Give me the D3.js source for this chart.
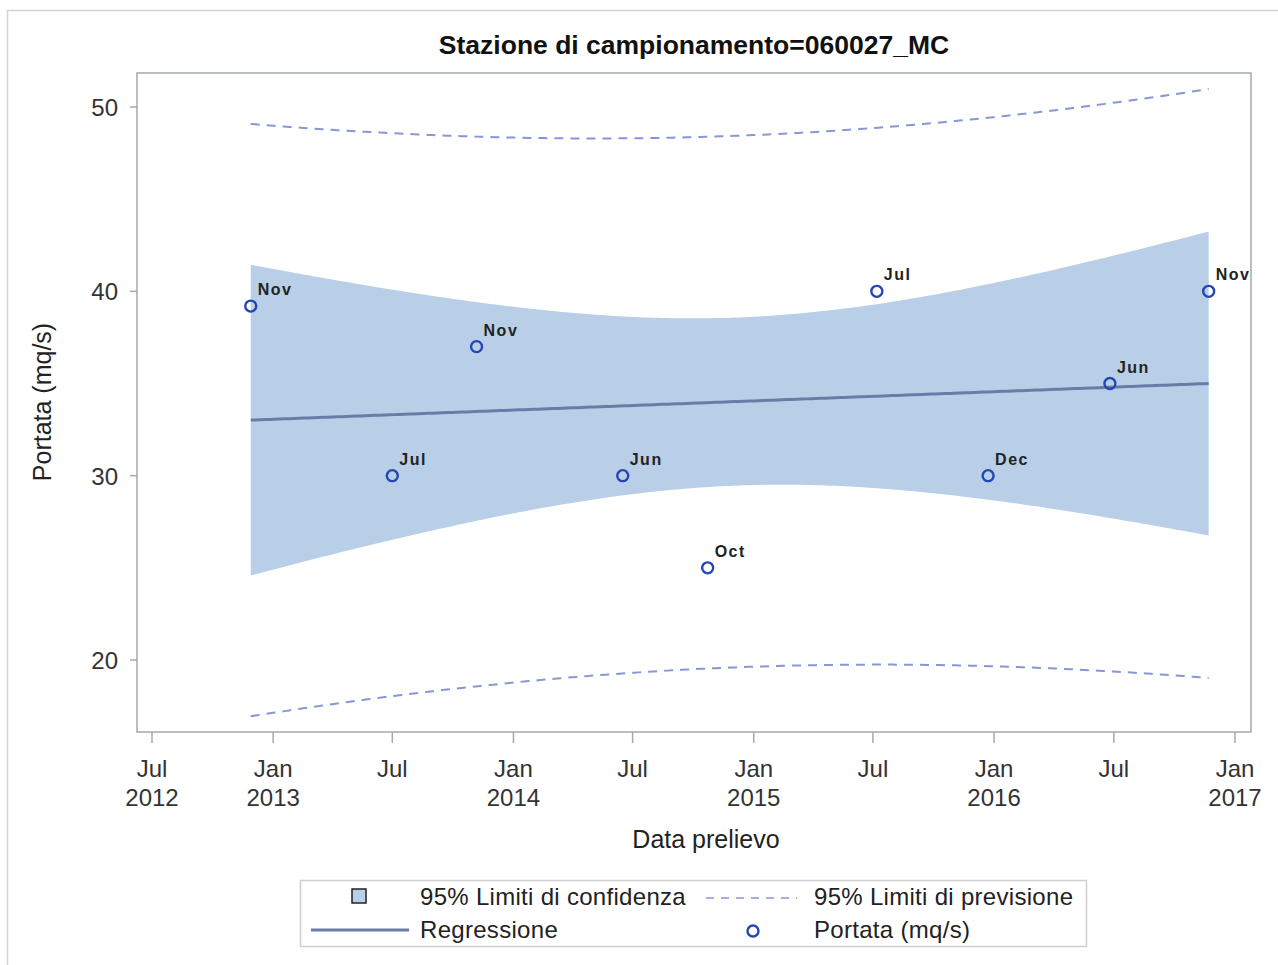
<!DOCTYPE html>
<html><head><meta charset="utf-8">
<script src="https://cdn.jsdelivr.net/npm/d3@7"></script>
<style>body{margin:0;background:#fff}svg{display:block;font-family:"Liberation Sans",Arial,sans-serif}</style>
</head><body>
<svg id="c" width="1278" height="965"></svg>
<script>
const dates = ["2012-11-28","2013-07-01","2013-11-06","2014-06-16","2014-10-23","2015-07-07","2015-12-23","2016-06-25","2016-11-22"];
const labels = ["Nov","Jul","Nov","Jun","Oct","Jul","Dec","Jun","Nov"];
const values = [39.2,30,37,30,25,40,30,35,40];
const yTicks = [20,30,40,50];
const xTickDates = ["2012-07-01","2013-01-01","2013-07-01","2014-01-01","2014-07-01","2015-01-01","2015-07-01","2016-01-01","2016-07-01","2017-01-01"];
const tCrit = 2.3646; // t(0.975, df=7)

const parse = d3.utcParse("%Y-%m-%d");
const pts = dates.map((d,i)=>({date:parse(d), v:values[i], lab:labels[i]}));
const svg = d3.select("#c");
const L=137,R=1251,T=73,B=732;
const x = d3.scaleUtc().domain([parse("2012-07-01"),parse("2017-01-01")]).range([152,1235]);
const y = d3.scaleLinear().domain([20,50]).range([660,107]);

// regression in days
const day = d=>d.getTime()/864e5;
const xs = pts.map(p=>day(p.date)), n=xs.length;
const mx = d3.mean(xs), my = d3.mean(values);
let sxx=0,sxy=0; xs.forEach((xi,i)=>{sxx+=(xi-mx)**2; sxy+=(xi-mx)*(values[i]-my);});
const b = sxy/sxx, a = my-b*mx;
let sse=0; xs.forEach((xi,i)=>{sse+=(values[i]-a-b*xi)**2;});
const s = Math.sqrt(sse/(n-2));
const x0=d3.min(xs), x1=d3.max(xs);
const grid = d3.range(0,201).map(k=>x0+(x1-x0)*k/200);
const band = grid.map(g=>{const f=a+b*g, se=s*Math.sqrt(1/n+(g-mx)**2/sxx), sp=s*Math.sqrt(1+1/n+(g-mx)**2/sxx);
  return {d:new Date(g*864e5), f, lc:f-tCrit*se, uc:f+tCrit*se, lp:f-tCrit*sp, up:f+tCrit*sp};});

// outer frame
svg.append("rect").attr("x",7.5).attr("y",10.5).attr("width",1290).attr("height",1000).attr("fill","none").attr("stroke","#d4d4d4").attr("stroke-width",1.5);

svg.append("defs").append("clipPath").attr("id","clip").append("rect").attr("x",L).attr("y",T).attr("width",R-L).attr("height",B-T);
const g = svg.append("g").attr("clip-path","url(#clip)");

g.append("path").datum(band).attr("fill","#b9cfe7")
 .attr("d",d3.area().x(d=>x(d.d)).y0(d=>y(d.lc)).y1(d=>y(d.uc)));
g.append("path").datum(band).attr("fill","none").attr("stroke","#6a7ca6").attr("stroke-width",3)
 .attr("d",d3.line().x(d=>x(d.d)).y(d=>y(d.f)));
["lp","up"].forEach(k=>{
 g.append("path").datum(band).attr("fill","none").attr("stroke","#8797d6").attr("stroke-width",2).attr("stroke-dasharray","9,7")
  .attr("d",d3.line().x(d=>x(d.d)).y(d=>y(d[k])));
});
g.selectAll("circle.pt").data(pts).join("circle").attr("class","pt")
 .attr("cx",d=>x(d.date)).attr("cy",d=>y(d.v)).attr("r",5.5).attr("fill","none").attr("stroke","#2347b2").attr("stroke-width",2.4);
g.selectAll("text.lab").data(pts).join("text").attr("class","lab")
 .attr("x",d=>x(d.date)+7).attr("y",d=>y(d.v)-11).attr("font-size",16).attr("font-weight","bold").attr("letter-spacing","1.5px").attr("fill","#222")
 .text(d=>d.lab);

// frame
svg.append("rect").attr("x",L).attr("y",T).attr("width",R-L).attr("height",B-T).attr("fill","none").attr("stroke","#a5a9ad").attr("stroke-width",1.5);

// y axis
const ya = svg.append("g");
yTicks.forEach(t=>{
 ya.append("line").attr("x1",L-7).attr("x2",L).attr("y1",y(t)).attr("y2",y(t)).attr("stroke","#a5a9ad").attr("stroke-width",1.5);
 ya.append("text").attr("x",L-19).attr("y",y(t)+9).attr("text-anchor","end").attr("font-size",24).attr("fill","#333").text(t);
});
svg.append("text").attr("transform","translate(51,402) rotate(-90)").attr("text-anchor","middle").attr("font-size",25).attr("fill","#222").text("Portata (mq/s)");

// x axis
const fm = d3.utcFormat("%b"), fy = d3.utcFormat("%Y");
xTickDates.map(parse).forEach((d,i)=>{
 const px=x(d);
 svg.append("line").attr("x1",px).attr("x2",px).attr("y1",B).attr("y2",B+11).attr("stroke","#a5a9ad").attr("stroke-width",1.5);
 svg.append("text").attr("x",px).attr("y",777).attr("text-anchor","middle").attr("font-size",24).attr("fill","#333").text(fm(d));
 if(i===0||d.getUTCMonth()===0)
  svg.append("text").attr("x",px).attr("y",806).attr("text-anchor","middle").attr("font-size",24).attr("fill","#333").text(fy(d));
});
svg.append("text").attr("x",706).attr("y",848).attr("text-anchor","middle").attr("font-size",25).attr("fill","#222").text("Data prelievo");

// title
svg.append("text").attr("x",694).attr("y",54).attr("text-anchor","middle").attr("font-size",26.5).attr("font-weight","bold").attr("fill","#111").text("Stazione di campionamento=060027_MC");

// legend
const lg = svg.append("g");
lg.append("rect").attr("x",300.5).attr("y",880.5).attr("width",786).attr("height",66).attr("fill","none").attr("stroke","#cfcfcf").attr("stroke-width",1.5);
lg.append("rect").attr("x",352).attr("y",889).attr("width",14).attr("height",14).attr("fill","#b9cfe7").attr("stroke","#222").attr("stroke-width",1.5);
lg.append("text").attr("x",420).attr("y",905).attr("font-size",24).attr("letter-spacing","0.3px").attr("fill","#222").text("95% Limiti di confidenza");
lg.append("line").attr("x1",706).attr("x2",797).attr("y1",898).attr("y2",898).attr("stroke","#8797d6").attr("stroke-width",1.5).attr("stroke-dasharray","8,7");
lg.append("text").attr("x",814).attr("y",905).attr("font-size",24).attr("letter-spacing","0.3px").attr("fill","#222").text("95% Limiti di previsione");
lg.append("line").attr("x1",311).attr("x2",409).attr("y1",930).attr("y2",930).attr("stroke","#6a7ca6").attr("stroke-width",3);
lg.append("text").attr("x",420).attr("y",938).attr("font-size",24).attr("letter-spacing","0.3px").attr("fill","#222").text("Regressione");
lg.append("circle").attr("cx",753).attr("cy",931).attr("r",5.5).attr("fill","none").attr("stroke","#2347b2").attr("stroke-width",2.4);
lg.append("text").attr("x",814).attr("y",938).attr("font-size",24).attr("letter-spacing","0.3px").attr("fill","#222").text("Portata (mq/s)");
</script>
</body></html>
